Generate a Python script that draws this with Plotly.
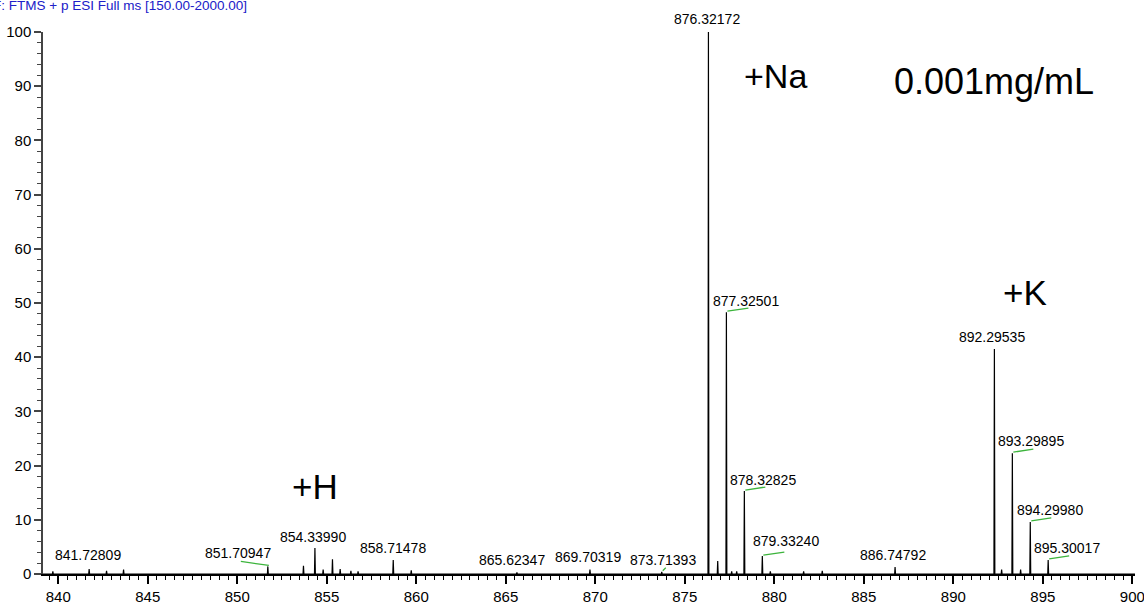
import plotly.graph_objects as go

# ---------------- data ----------------
peak_mz = [839.70, 841.72809, 842.70, 843.65, 851.70947, 853.70, 854.33990, 854.80,
           855.32, 855.75, 856.35, 856.75, 858.71478, 859.72, 865.62347, 869.70319,
           873.71393, 876.32172, 876.84, 877.32501, 877.62, 877.90, 878.32825,
           879.33240, 879.78, 881.64, 882.68, 886.74792, 892.29535, 892.70,
           893.29895, 893.76, 894.29980, 895.30017]
peak_int = [0.5, 0.9, 0.6, 0.8, 1.4, 1.5, 4.8, 0.8,
            2.7, 0.9, 0.6, 0.5, 2.6, 0.7, 0.3, 0.8,
            0.4, 100.0, 2.4, 48.3, 0.5, 0.5, 15.3,
            3.3, 0.5, 0.5, 0.6, 1.3, 41.5, 0.8,
            22.3, 0.8, 9.6, 2.6]

label_mz = [841.72809, 851.70947, 854.33990, 858.71478, 865.62347, 869.70319,
            873.71393, 876.32172, 877.32501, 878.32825, 879.33240, 886.74792,
            892.29535, 893.29895, 894.29980, 895.30017]
label_text = ["841.72809", "851.70947", "854.33990", "858.71478", "865.62347", "869.70319",
              "873.71393", "876.32172", "877.32501", "878.32825", "879.33240", "886.74792",
              "892.29535", "893.29895", "894.29980", "895.30017"]

ion_text = ["+Na", "0.001mg/mL", "+K", "+H"]
title_text = "F: FTMS + p ESI Full ms [150.00-2000.00]"

# ---------------- layout helpers (pixel offsets of labels) ----------------
label_shift = [(-1, 14), (-30, 13), (-2, 11), (0, 12), (-5, 12), (-2, 13),
               (1, 12), (-1, 13), (20, 11), (19, 11), (24, 15), (-2, 12),
               (-2, 12), (19, 12), (20, 12), (19, 12)]
# green leader lines (dx, dy in pixels from peak top), None = no line
leader = [None, (-28, 4), None, None, None, None,
          (3, 3), None, (21, 3), (20, 3), (21, 3), None,
          None, (20, 3), (20, 3), (20, 3)]
ion_pos = [(880.04, 91.9), (892.27, 90.9), (894.0, 51.9), (854.35, 16.1)]
ion_size = [34, 36, 35, 35]

FONT = "Liberation Sans, Arial, sans-serif"

# ---------------- spectrum line ----------------
w = 0.025
xs, ys = [peak_mz[0] - 1.0], [0]
for mz, h in sorted(zip(peak_mz, peak_int)):
    xs += [mz - w, mz, mz + w]
    ys += [0, h, 0]
xs.append(900.5)
ys.append(0)

fig = go.Figure()
fig.add_trace(go.Scatter(x=xs, y=ys, mode="lines",
                         line=dict(color="black", width=1.2),
                         hoverinfo="skip", showlegend=False))

height_of = dict(zip(peak_mz, peak_int))
annotations = []
shapes = []
for mz, txt, (dx, dy), ld in zip(label_mz, label_text, label_shift, leader):
    h = height_of[mz]
    annotations.append(dict(x=mz, y=h, xref="x", yref="y", text=txt, showarrow=False,
                            xanchor="center", yanchor="middle", xshift=dx, yshift=dy,
                            font=dict(family=FONT, size=14, color="black")))
    if ld is not None:
        shapes.append(dict(type="line", xref="x", yref="y", xsizemode="pixel",
                           ysizemode="pixel", xanchor=mz, yanchor=h,
                           x0=1, y0=1, x1=1 + ld[0], y1=1 + ld[1],
                           line=dict(color="#3cb43c", width=1.3)))

for txt, (x, y), s in zip(ion_text, ion_pos, ion_size):
    annotations.append(dict(x=x, y=y, xref="x", yref="y", text=txt, showarrow=False,
                            xanchor="center", yanchor="middle",
                            font=dict(family=FONT, size=s, color="black")))

annotations.append(dict(x=-0.048, y=1.031, xref="paper", yref="paper", text=title_text,
                        showarrow=False, xanchor="left", yanchor="bottom",
                        font=dict(family=FONT, size=13.5, color="#2020c8")))

fig.update_layout(
    width=1144, height=607,
    margin=dict(l=43, r=9, t=32, b=33, autoexpand=False),
    paper_bgcolor="white", plot_bgcolor="white",
    annotations=annotations, shapes=shapes,
    xaxis=dict(range=[839.15, 900.15], tickmode="linear", tick0=840, dtick=5,
               automargin=False, ticklabeloverflow="allow",
               ticks="outside", ticklen=8, tickwidth=1.5, tickcolor="black",
               showline=True, linecolor="black", linewidth=2,
               showgrid=False, zeroline=False,
               tickfont=dict(family=FONT, size=15, color="black"),
               minor=dict(tick0=840, dtick=0.5, ticks="outside", ticklen=4,
                          tickcolor="black", tickwidth=1, showgrid=False)),
    yaxis=dict(range=[0, 100], tickmode="linear", tick0=0, dtick=10,
               automargin=False, ticklabeloverflow="allow",
               ticks="outside", ticklen=7, tickwidth=1.5, tickcolor="#444",
               showline=True, linecolor="#444", linewidth=1.5,
               showgrid=False, zeroline=False,
               tickfont=dict(family=FONT, size=15, color="black"),
               minor=dict(tick0=0, dtick=2, ticks="outside", ticklen=4,
                          tickcolor="#444", tickwidth=1, showgrid=False)),
)

fig.write_html("out.html", config={"displayModeBar": False},
               post_script="document.body.style.margin='0';")
